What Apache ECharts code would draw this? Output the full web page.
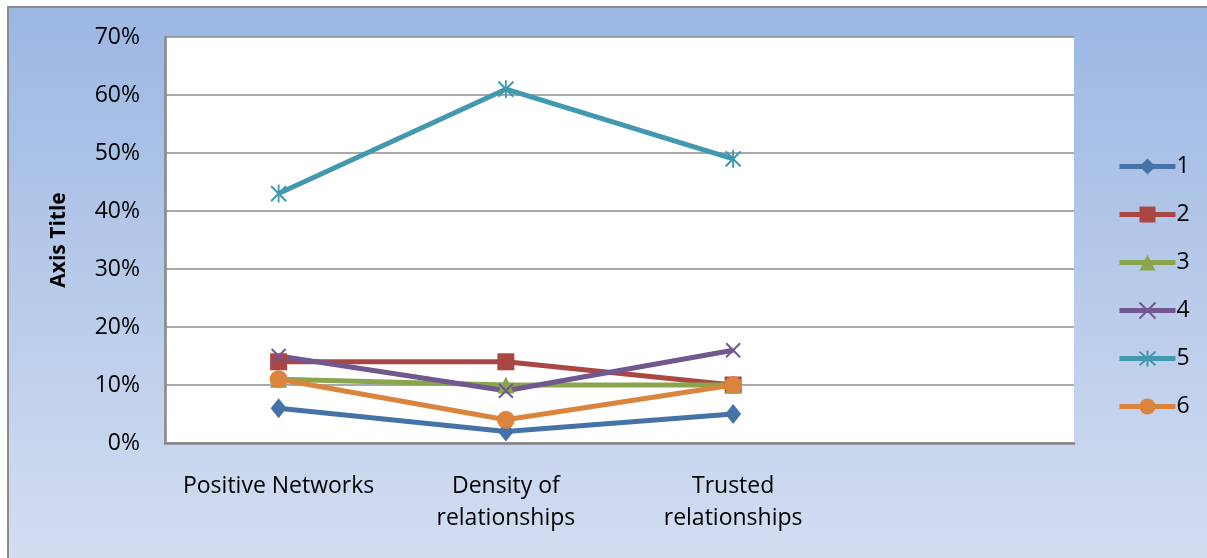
<!DOCTYPE html>
<html>
<head>
<meta charset="utf-8"/>
<title>Line chart</title>
<script src="https://cdn.jsdelivr.net/npm/echarts@6/dist/echarts.min.js"></script>
<style>
  body { margin: 0; padding: 0; background: #ffffff; }
  #chart { width: 1207px; height: 558px; }
</style>
</head>
<body>
<div id="chart"></div>
<script type="text/javascript">
// data (fractions, shown as %)
let categories = ['Positive Networks', 'Density of\nrelationships', 'Trusted\nrelationships', ''];
let seriesNames = ['1', '2', '3', '4', '5', '6'];
let s1 = [0.06, 0.02, 0.05];
let s2 = [0.14, 0.14, 0.10];
let s3 = [0.11, 0.10, 0.10];
let s4 = [0.15, 0.09, 0.16];
let s5 = [0.43, 0.61, 0.49];
let s6 = [0.11, 0.04, 0.10];

let colors = ['#4572A7', '#AA4643', '#89A54E', '#71588F', '#4198AF', '#DB843D'];
let crossPath = 'path://M0,0L10,10M10,0L0,10';
let starPath = 'path://M0,1L10,11M10,1L0,11M5,0L5,12';

let chart = echarts.init(document.getElementById('chart'));

function makeSeries(i, data, symbol, size, open) {
  let s = {
    name: seriesNames[i],
    type: 'line',
    data: data,
    symbol: symbol,
    symbolSize: size,
    showAllSymbol: true,
    lineStyle: { width: 5, color: colors[i] },
    itemStyle: { color: colors[i] },
    emphasis: { disabled: true },
    animation: false
  };
  if (open) {
    s.itemStyle = { color: colors[i], borderColor: colors[i], borderWidth: 2 };
  }
  return s;
}

chart.setOption({
  color: colors,
  animation: false,
  textStyle: { fontFamily: 'Open Sans' },
  graphic: [
    {
      type: 'rect',
      z: -10,
      silent: true,
      shape: { x: 8, y: 7, width: 1260, height: 600 },
      style: {
        fill: new echarts.graphic.LinearGradient(0, 0, 0, 1, [
          { offset: 0, color: '#9bb7e3' },
          { offset: 1, color: '#d8e1f2' }
        ]),
        stroke: '#8a8a8a',
        lineWidth: 2
      }
    }
  ],
  grid: {
    left: 165,
    top: 37,
    right: 133,
    height: 406,
    backgroundColor: '#ffffff',
    show: true,
    borderWidth: 0
  },
  legend: {
    orient: 'vertical',
    left: 1112,
    top: 150,
    itemWidth: 56,
    itemHeight: 20,
    itemGap: 25,
    data: seriesNames,
    lineStyle: { width: 5 },
    textStyle: { fontSize: 23, color: '#000', fontFamily: 'Open Sans', padding: [0, 0, 0, -4] }
  },
  xAxis: {
    type: 'category',
    data: categories,
    boundaryGap: true,
    axisLine: { lineStyle: { color: '#878787', width: 2.5 } },
    axisTick: { show: false },
    axisLabel: {
      color: '#000',
      fontSize: 23,
      lineHeight: 32,
      margin: 27,
      interval: 0
    }
  },
  yAxis: {
    type: 'value',
    min: 0,
    max: 0.7,
    interval: 0.1,
    name: 'Axis Title',
    nameLocation: 'middle',
    nameGap: 95,
    nameRotate: 90,
    nameTextStyle: { fontSize: 21, fontWeight: 'bold', color: '#000' },
    axisLine: { show: true, lineStyle: { color: '#878787', width: 2.5 } },
    axisTick: { show: false },
    splitLine: { lineStyle: { color: '#8c8c8c', width: 1.5 } },
    axisLabel: {
      color: '#000',
      fontSize: 23,
      margin: 25,
      formatter: (v) => Math.round(v * 100) + '%'
    }
  },
  series: [
    makeSeries(0, s1, 'diamond', [16, 20], false),
    makeSeries(1, s2, 'rect', 17, false),
    makeSeries(2, s3, 'triangle', 17, false),
    makeSeries(3, s4, crossPath, 14, true),
    makeSeries(4, s5, starPath, [15, 18], true),
    makeSeries(5, s6, 'circle', 18, false)
  ]
});
</script>
</body>
</html>
